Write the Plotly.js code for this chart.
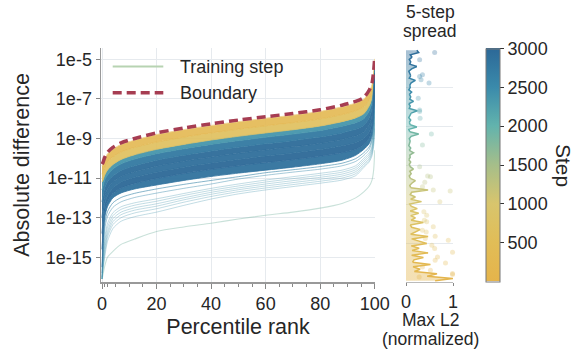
<!DOCTYPE html>
<html><head><meta charset="utf-8">
<script src="https://cdn.plot.ly/plotly-3.0.1.min.js"></script>
<style>html,body{margin:0;padding:0;background:#fff}#chart{width:579px;height:349px}</style>
</head><body><div id="chart"></div>
<script>
// ---------- DATA ----------
// percentile rank positions at which each curve is sampled
const pct = [0,0.4,1,2,4,7,12,20,30,40,50,60,70,80,88,93,96,98,99,99.6,100];
// all curve values are log10(absolute difference)
const boundaryExp = [-10.3,-10.2,-9.95,-9.7,-9.45,-9.22,-9.0,-8.72,-8.47,-8.26,-8.07,-7.9,-7.74,-7.55,-7.32,-7.13,-6.93,-6.55,-6.2,-5.6,-4.9];
// dense band of training-step curves, top to bottom
const band1 = [-10.38,-10.28,-10.03,-9.78,-9.53,-9.3,-9.08,-8.8,-8.55,-8.34,-8.15,-7.98,-7.82,-7.63,-7.4,-7.21,-7.01,-6.63,-6.28,-5.68,-4.98];
const band2 = [-10.8,-10.7,-10.45,-10.2,-9.93,-9.68,-9.45,-9.18,-8.93,-8.72,-8.53,-8.36,-8.2,-8.01,-7.79,-7.6,-7.4,-7.02,-6.65,-5.95,-5.15];
const band3 = [-11.2,-11.1,-10.85,-10.6,-10.32,-10.06,-9.82,-9.55,-9.3,-9.08,-8.89,-8.72,-8.56,-8.37,-8.15,-7.96,-7.75,-7.35,-6.95,-6.2,-5.3];
const band4 = [-11.6,-11.4,-11.1,-10.85,-10.55,-10.28,-10.04,-9.77,-9.52,-9.3,-9.11,-8.94,-8.78,-8.6,-8.38,-8.2,-8.0,-7.6,-7.2,-6.4,-5.4];
const band5 = [-12.2,-11.9,-11.5,-11.2,-10.9,-10.62,-10.38,-10.1,-9.85,-9.63,-9.44,-9.27,-9.11,-8.93,-8.72,-8.54,-8.34,-7.95,-7.5,-6.65,-5.55];
const band6 = [-13.0,-12.5,-11.9,-11.55,-11.2,-10.92,-10.68,-10.4,-10.15,-9.94,-9.75,-9.58,-9.42,-9.25,-9.05,-8.87,-8.67,-8.3,-7.85,-6.95,-5.7];
const band7 = [-13.8,-13.1,-12.3,-11.9,-11.5,-11.2,-10.96,-10.7,-10.45,-10.24,-10.06,-9.89,-9.73,-9.56,-9.37,-9.2,-9.0,-8.65,-8.2,-7.25,-5.85];
const band8 = [-14.6,-13.7,-12.7,-12.2,-11.78,-11.5,-11.27,-11.02,-10.77,-10.56,-10.38,-10.22,-10.07,-9.9,-9.72,-9.55,-9.3,-8.95,-8.5,-7.55,-6.0];
const band9 = [-15.5,-14.3,-13.0,-12.45,-12.0,-11.75,-11.55,-11.35,-11.12,-10.92,-10.75,-10.6,-10.45,-10.28,-10.1,-9.85,-9.55,-9.25,-8.85,-7.9,-6.2];
const bandSteps = [100,250,600,2350,2750,2950,2900,3000,2850];
// lighter curves just below the band
const light1 = [-15.8,-14.6,-13.3,-12.7,-12.25,-11.98,-11.77,-11.55,-11.32,-11.12,-10.93,-10.73,-10.58,-10.42,-10.25,-10.02,-9.72,-9.42,-9.02,-8.1,-6.4];
const light2 = [-16.0,-14.9,-13.6,-12.95,-12.48,-12.2,-11.98,-11.76,-11.52,-11.3,-11.05,-10.86,-10.7,-10.55,-10.38,-10.16,-9.86,-9.55,-9.15,-8.3,-6.6];
// straggler curves
const strag1 = [-16.1,-15.0,-14.0,-13.3,-12.75,-12.45,-12.25,-12.05,-11.78,-11.52,-11.3,-11.1,-10.93,-10.76,-10.6,-10.38,-10.0,-9.72,-9.38,-8.6,-7.0];
const strag2 = [-16.1,-15.2,-14.2,-13.5,-12.9,-12.58,-12.37,-12.17,-11.88,-11.62,-11.4,-11.2,-11.03,-10.86,-10.7,-10.48,-10.1,-9.82,-9.48,-8.8,-7.3];
const strag3 = [-16.1,-15.3,-14.4,-13.7,-13.05,-12.72,-12.5,-12.3,-12.0,-11.72,-11.5,-11.3,-11.13,-10.96,-10.8,-10.58,-10.2,-9.92,-9.58,-8.95,-7.6];
const strag4 = [-16.1,-15.4,-14.6,-13.85,-13.2,-12.85,-12.62,-12.42,-12.1,-11.82,-11.59,-11.4,-11.23,-11.06,-10.9,-10.68,-10.3,-10.02,-9.68,-9.1,-7.9];
const strag5 = [-16.1,-15.5,-14.8,-14.0,-13.35,-13.0,-12.76,-12.55,-12.22,-11.93,-11.69,-11.5,-11.33,-11.16,-11.0,-10.78,-10.38,-10.1,-9.78,-9.25,-8.2];
const strag6 = [-16.1,-15.6,-15.0,-14.2,-13.55,-13.18,-12.95,-12.72,-12.38,-12.06,-11.8,-11.6,-11.43,-11.26,-11.1,-10.88,-10.46,-10.18,-9.88,-9.4,-8.5];
// lowest curve
const lowest = [-16.1,-15.85,-15.45,-15.0,-14.7,-14.35,-14.08,-13.7,-13.47,-13.28,-13.07,-12.88,-12.72,-12.52,-12.28,-12.0,-11.7,-11.4,-11.1,-10.6,-9.6];

const yTickVals = [1e-15,1e-13,1e-11,1e-9,1e-7,1e-5];
const yTickText = ['1e-15','1e-13','1e-11','1e-9','1e-7','1e-5'];
const xTickVals = [0,20,40,60,80,100];

// 5-step spread panel: max L2 (normalized) per step bin
const spreadSteps = [15,45,75,105,135,165,195,225,255,285,315,345,375,405,435,465,495,525,555,585,615,645,675,705,735,765,795,825,855,885,915,945,975,1005,1035,1065,1095,1125,1155,1185,1215,1245,1275,1305,1335,1365,1395,1425,1455,1485,1515,1545,1575,1605,1635,1665,1695,1725,1755,1785,1815,1845,1875,1905,1935,1965,1995,2025,2055,2085,2115,2145,2175,2205,2235,2265,2295,2325,2355,2385,2415,2445,2475,2505,2535,2565,2595,2625,2655,2685,2715,2745,2775,2805,2835,2865,2895,2925,2955,2985];
const spreadVals = [0.62,1.0,0.45,0.66,0.18,0.30,0.15,0.52,0.14,0.17,
 0.37,0.12,0.47,0.13,0.28,0.11,0.44,0.25,0.12,0.47,
 0.10,0.22,0.30,0.12,0.09,0.37,0.11,0.20,0.10,0.27,
 0.09,0.24,0.11,0.08,0.33,0.10,0.20,0.09,0.12,0.47,
 0.10,0.08,0.13,0.20,0.09,0.07,0.11,0.08,0.16,0.09,
 0.07,0.10,0.06,0.09,0.08,0.16,0.07,0.10,0.06,0.08,
 0.09,0.07,0.11,0.27,0.08,0.06,0.23,0.09,0.07,0.10,
 0.06,0.08,0.11,0.24,0.07,0.09,0.06,0.16,0.08,0.10,
 0.07,0.12,0.06,0.09,0.08,0.11,0.20,0.07,0.10,0.08,
 0.06,0.12,0.23,0.08,0.10,0.07,0.13,0.09,0.27,0.23];
const dotSteps = [2956,2561,2647,2604,1907,2216,1171,1033,538,431,645,108,796,1355,1484,1364,1184,590,384,245,323,473,95,710,861,904,1283,1227,775,667,560,280,194,151,65,2668,2861,1764,2194,2367,2109];
const dotVals  = [0.61,0.49,0.29,0.32,0.54,0.29,0.94,0.72,0.9,0.61,0.43,0.99,0.39,0.52,0.29,0.46,0.58,0.62,0.99,0.84,0.67,0.55,0.99,0.58,0.44,0.38,0.4,0.35,0.44,0.35,0.41,0.62,0.35,0.52,0.28,0.35,0.29,0.35,0.29,0.26,0.30];
const cbTicks = [500,1000,1500,2000,2500,3000];

// ---------- STYLE ----------
const cs = [[0,'#e5b44b'],[0.167,'#e1bd57'],[0.333,'#d8c56d'],[0.5,'#a5be8a'],[0.667,'#62b3ad'],[0.833,'#3a8aab'],[1,'#2c6897']];
function hex(h){return [parseInt(h.slice(1,3),16),parseInt(h.slice(3,5),16),parseInt(h.slice(5,7),16)];}
function stepColor(s,a){
  const t=Math.max(0,Math.min(1,s/3000));
  for(let i=1;i<cs.length;i++){
    if(t<=cs[i][0]){
      const f=(t-cs[i-1][0])/(cs[i][0]-cs[i-1][0]);
      const c0=hex(cs[i-1][1]),c1=hex(cs[i][1]);
      const c=c0.map((v,k)=>Math.round(v+(c1[k]-v)*f));
      return `rgba(${c[0]},${c[1]},${c[2]},${a})`;
    }
  }
  return cs[cs.length-1][1];
}
const toY = arr => arr.map(v => Math.pow(10,v));
const W=579,H=349;
const px = x => x/W, py = y => 1-y/H;

const traces = [];
function curve(exp, color, width, extra){
  traces.push(Object.assign({x:pct, y:toY(exp), type:'scatter', mode:'lines',
    line:{color:color, width:width, shape:'spline', smoothing:0.7},
    showlegend:false, hoverinfo:'skip', xaxis:'x', yaxis:'y'}, extra||{}));
}
// below-band curves
curve(lowest, 'rgba(120,180,160,0.4)', 1.1);
[strag6,strag5,strag4,strag3,strag2,strag1].forEach(a=>curve(a, stepColor(2400,0.32), 1.0));
curve(light2, stepColor(2500,0.45), 1.0);
curve(light1, stepColor(2600,0.6), 1.0);
// dense band, filled between consecutive curves
const bands=[band1,band2,band3,band4,band5,band6,band7,band8,band9];
bands.forEach((a,i)=>{
  const fillCol = stepColor(bandSteps[i], i<3?0.9:0.95);
  const lineCol = i===0 ? 'rgba(240,214,150,0.9)' : stepColor(bandSteps[i], 0.8);
  curve(a, lineCol, 1.0, i===0?{}:{fill:'tonexty', fillcolor:fillCol});
});
// boundary
curve(boundaryExp, '#a63d52', 3.5, {line:{color:'#a63d52', width:3.5, dash:'9px,5px', shape:'spline', smoothing:0.7}});

// spread panel: pale fill under the spread curve
traces.push({x:spreadVals, y:spreadSteps, type:'scatter', mode:'none', xaxis:'x2', yaxis:'y2',
  fill:'tozerox', hoverinfo:'skip', showlegend:false,
  fillgradient:{type:'vertical', start:0, stop:3000,
    colorscale:[[0,'rgba(229,180,75,0.42)'],[0.33,'rgba(216,197,109,0.4)'],[0.5,'rgba(165,190,138,0.4)'],[0.67,'rgba(98,179,173,0.4)'],[1,'rgba(44,104,151,0.42)']]}});
// outlier dots
traces.push({x:dotVals, y:dotSteps, type:'scatter', mode:'markers', xaxis:'x2', yaxis:'y2',
  marker:{size:5, color:dotSteps, colorscale:cs, cmin:0, cmax:3000, opacity:0.3},
  cliponaxis:false, hoverinfo:'skip', showlegend:false});
// spread curve coloured by step (segments)
const seg=4;
for(let s=0;s<spreadSteps.length-1;s+=seg){
  const e=Math.min(s+seg, spreadSteps.length-1);
  const mid=spreadSteps[Math.floor((s+e)/2)];
  traces.push({x:spreadVals.slice(s,e+1), y:spreadSteps.slice(s,e+1), type:'scatter', mode:'lines',
    xaxis:'x2', yaxis:'y2', line:{color:stepColor(mid,1), width:1.5}, hoverinfo:'skip', showlegend:false});
}
// invisible carrier for the colour bar
traces.push({x:[null], y:[null], type:'scatter', mode:'markers', xaxis:'x2', yaxis:'y2',
  marker:{color:[0], colorscale:cs, cmin:0, cmax:3000, showscale:true,
    colorbar:{x:px(486), xanchor:'left', xpad:0, y:py(165), yanchor:'middle', ypad:0,
      len:233.4, lenmode:'pixels', thickness:14, thicknessmode:'pixels',
      outlinecolor:'#777', outlinewidth:1, tickvals:cbTicks, ticks:'outside', ticklen:4,
      tickcolor:'#333', tickfont:{size:18, color:'#262626'}}},
  hoverinfo:'skip', showlegend:false});

const grid='#e6eaee';
const layout = {
  width:W, height:H, margin:{l:0,r:0,t:0,b:0},
  paper_bgcolor:'#ffffff', plot_bgcolor:'rgba(0,0,0,0)',
  font:{family:'Liberation Sans, Arial, sans-serif', color:'#262626', size:18},
  showlegend:false,
  xaxis:{domain:[px(101),px(375)], range:[-0.37,100.1], tickvals:xTickVals, ticks:'outside', ticklen:5,
    tickcolor:'#888', tickfont:{size:18}, showline:true, linecolor:'#999', linewidth:1.5,
    showgrid:true, gridcolor:grid, gridwidth:1, zeroline:false, anchor:'y',
    minor:{ticks:'outside', ticklen:3, tickcolor:'#888', showgrid:false,
      tickvals:[1,2,5,10,15,25,30,35,45,50,55,65,70,75,85,90,95]},
    title:{text:'Percentile rank', font:{size:21.5}, standoff:6}},
  yaxis:{domain:[py(282),py(48)], type:'log', range:[-16.25,-4.43], tickvals:yTickVals, ticktext:yTickText,
    ticks:'outside', ticklen:4, tickcolor:'#888', tickfont:{size:18}, showline:true, linecolor:'#999', linewidth:1.5,
    showgrid:true, gridcolor:grid, gridwidth:1, zeroline:false, anchor:'x',
    title:{text:'Absolute difference', font:{size:21.5}, standoff:10}},
  xaxis2:{domain:[px(406),px(453)], range:[0,1], tickvals:[0,1], ticks:'outside', ticklen:3, tickcolor:'#888',
    tickfont:{size:18}, showline:true, linecolor:'#bbb', linewidth:1, showgrid:true, gridcolor:grid,
    zeroline:false, anchor:'y2'},
  yaxis2:{domain:[py(282),py(49)], range:[0,3000], tickvals:[500,1000,1500,2000,2500], showticklabels:false,
    ticks:'', showgrid:true, gridcolor:grid, zeroline:false, showline:false, anchor:'x2'},
  shapes:[
    {type:'line', xref:'paper', yref:'paper', x0:px(112.7), x1:px(163.3), y0:py(66.5), y1:py(66.5),
      line:{color:'#b7d3b2', width:2.2}},
    {type:'line', xref:'paper', yref:'paper', x0:px(112.7), x1:px(163.3), y0:py(92.7), y1:py(92.7),
      line:{color:'#a63d52', width:3.5, dash:'9px,5px'}}
  ],
  annotations:[
    {text:'Training step', xref:'paper', yref:'paper', x:px(178), y:py(66.7), xanchor:'left', yanchor:'middle', showarrow:false, font:{size:18}},
    {text:'Boundary', xref:'paper', yref:'paper', x:px(178), y:py(92.7), xanchor:'left', yanchor:'middle', showarrow:false, font:{size:18}},
    {text:'5-step', xref:'paper', yref:'paper', x:px(430), y:py(12), xanchor:'center', yanchor:'middle', showarrow:false, font:{size:17.5}},
    {text:'spread', xref:'paper', yref:'paper', x:px(430), y:py(31), xanchor:'center', yanchor:'middle', showarrow:false, font:{size:17.5}},
    {text:'Max L2', xref:'paper', yref:'paper', x:px(430), y:py(320), xanchor:'center', yanchor:'middle', showarrow:false, font:{size:17.5}},
    {text:'(normalized)', xref:'paper', yref:'paper', x:px(430), y:py(338.5), xanchor:'center', yanchor:'middle', showarrow:false, font:{size:17.5}},
    {text:'Step', xref:'paper', yref:'paper', x:px(563), y:py(165), xanchor:'center', yanchor:'middle', textangle:90, showarrow:false, font:{size:21}}
  ]
};
Plotly.newPlot('chart', traces, layout, {displayModeBar:false, staticPlot:true});
</script></body></html>
